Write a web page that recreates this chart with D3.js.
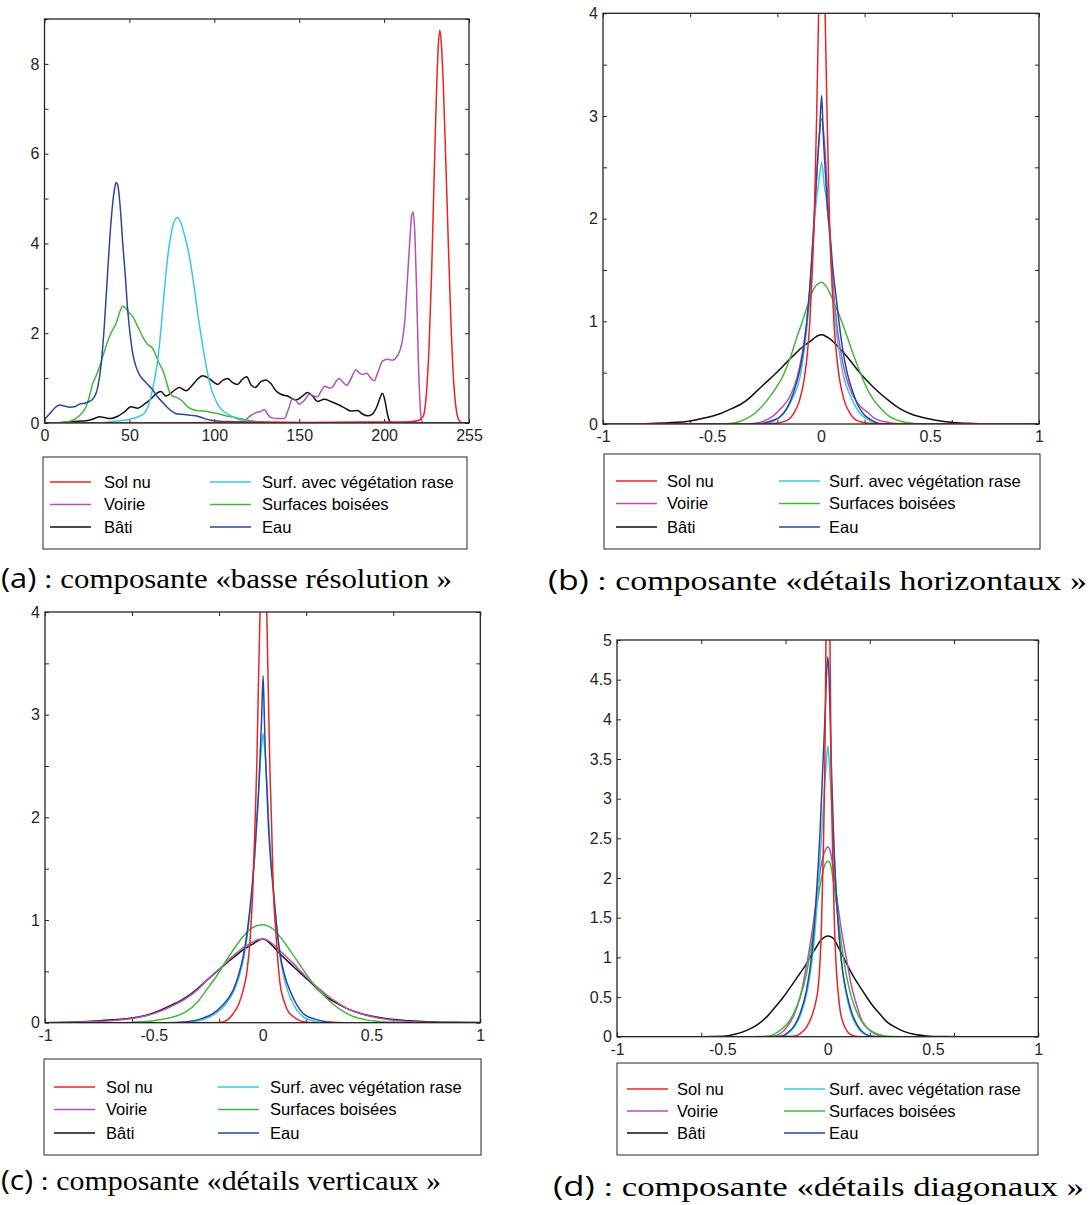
<!DOCTYPE html>
<html><head><meta charset="utf-8">
<script src="https://cdn.jsdelivr.net/npm/d3@7"></script>
<style>body{margin:0;background:#fff}svg{display:block}</style>
</head><body>
<svg id="c" width="1092" height="1205"></svg>
<script>
// ---------- series names / colours ----------
const seriesNames = ["Sol nu","Voirie","Bâti","Surf. avec végétation rase","Surfaces boisées","Eau"];
const seriesColors = ["#ee2222","#b451b4","#111111","#3ec6e0","#44b63e","#2b479b"];
const drawOrder = [2,1,4,3,5,0];

// ---------- tick labels ----------
const aXTickMarks = [0,51,102,153,204,255];
const aXLabelVals = [0,51,102,153,204,255];
const aXLabels = ["0","50","100","150","200","255"];
const aYTickMarks = [0,1,2,3,4,5,6,7,8,9];
const aYLabelVals = [0,2,4,6,8];
const wXTickMarks = [-1,-0.6,-0.2,0.2,0.6,1];
const wXLabelVals = [-1,-0.5,0,0.5,1];
const wXLabels = ["-1","-0.5","0","0.5","1"];
const bcYTickMarks = [0,0.5,1,1.5,2,2.5,3,3.5,4];
const bcYLabelVals = [0,1,2,3,4];
const dYTickMarks = [0,0.5,1,1.5,2,2.5,3,3.5,4,4.5,5];
const dYLabelVals = [0,0.5,1,1.5,2,2.5,3,3.5,4,4.5,5];

// ---------- (a) basse résolution ----------
const aSolNu = [[0,0],[60,0],[100,0.01],[130,0.02],[160,0.01],[190,0.02],[210,0.02],[220,0.03],[225,0.06],[227.5,0.15],[229.5,0.7],[231,1.7],[232.5,3.3],[234,5.4],[235.5,7.4],[236.7,8.5],[237.5,8.75],[238.3,8.5],[239.5,7.6],[241,5.9],[242.5,4.1],[244,2.4],[245.5,1.1],[247,0.4],[248.5,0.1],[250,0.02],[252,0],[255,0]];
const aVoirie = [[0,0],[100,0],[115,0.01],[120,0.05],[124,0.17],[127,0.23],[130,0.26],[132,0.3],[134,0.2],[136,0.12],[140,0.1],[144,0.1],[146.5,0.3],[149,0.55],[151,0.5],[153,0.42],[156,0.5],[159,0.64],[162,0.6],[164,0.58],[166,0.7],[168.5,0.82],[171,0.78],[173,0.8],[175,0.92],[177,0.99],[179,0.92],[181.5,0.84],[184,0.98],[187,1.18],[189,1.12],[191,1.08],[193.5,1.11],[196,1.0],[198,0.94],[200,1.1],[203,1.38],[206,1.42],[209,1.4],[212,1.5],[214.5,1.75],[216.5,2.3],[218,3.2],[219.5,4.1],[220.5,4.6],[221.5,4.7],[222.5,4.2],[223.5,3.0],[224.5,1.5],[225.5,0.5],[226.5,0.05],[228,0],[255,0]];
const aBati = [[0,0],[10,0.01],[20,0.04],[25,0.05],[30,0.1],[33,0.14],[36,0.12],[40,0.1],[44,0.15],[48,0.25],[52,0.36],[56,0.33],[60,0.42],[64,0.54],[67,0.65],[70,0.7],[73,0.6],[77,0.7],[81,0.79],[85,0.72],[89,0.85],[92,0.98],[95,1.05],[99,0.99],[102,0.9],[104,0.86],[107,0.95],[110,0.99],[113,0.9],[116,0.86],[119,0.98],[121.5,1.03],[124,0.85],[126.5,0.79],[130,0.92],[133,0.96],[136,0.88],[139,0.72],[142,0.64],[146,0.6],[151,0.51],[155,0.6],[158,0.68],[161,0.6],[164,0.48],[168,0.53],[172,0.48],[177,0.4],[181,0.32],[184,0.27],[188,0.28],[191,0.2],[194,0.16],[197,0.2],[199.5,0.35],[201.5,0.55],[203,0.66],[204.5,0.5],[206,0.2],[207.5,0.03],[209,0],[255,0]];
const aSurfVeg = [[0,0],[30,0],[40,0.03],[48,0.06],[53,0.1],[57,0.15],[60,0.22],[62,0.35],[64,0.6],[66,0.95],[68,1.4],[70,2.1],[72,2.95],[74,3.7],[76,4.2],[78,4.5],[80,4.58],[82,4.45],[84,4.2],[86,3.9],[88,3.5],[90,3.0],[92,2.45],[94,1.95],[96,1.5],[98,1.1],[100,0.78],[102,0.58],[104,0.42],[107,0.28],[111,0.18],[115,0.1],[120,0.05],[126,0.02],[135,0],[255,0]];
const aSurfBois = [[0,0],[8,0],[13,0.02],[18,0.08],[22,0.2],[25,0.36],[27,0.6],[29,0.88],[31,1.05],[33,1.25],[36,1.6],[39,1.92],[41,2.08],[43,2.22],[45,2.45],[47,2.6],[49,2.55],[51,2.45],[53,2.37],[56,2.15],[59,1.92],[62,1.75],[65,1.66],[67,1.5],[69,1.32],[71,1.18],[73,0.95],[75,0.7],[77,0.6],[80,0.56],[83,0.48],[86,0.36],[89,0.3],[93,0.27],[97,0.26],[101,0.23],[105,0.2],[110,0.15],[115,0.12],[120,0.08],[126,0.04],[132,0.01],[140,0],[255,0]];
const aEau = [[0,0.08],[3,0.2],[6,0.33],[9,0.4],[12,0.38],[15,0.35],[18,0.36],[21,0.42],[24,0.44],[27,0.48],[30,0.58],[32,0.8],[34,1.3],[36,2.2],[38,3.4],[40,4.5],[42,5.2],[43,5.36],[44,5.3],[45.5,4.8],[47,4.0],[48.5,3.3],[50,2.5],[51.5,1.95],[53,1.55],[55,1.25],[57,1.08],[59.5,0.96],[62,0.86],[65,0.74],[68,0.58],[71,0.46],[74,0.34],[77,0.25],[80,0.2],[84,0.19],[88,0.17],[92,0.15],[96,0.1],[100,0.06],[105,0.04],[115,0.03],[125,0.01],[140,0],[255,0]];

// ---------- (b) détails horizontaux ----------
const bSolNu = [[-1,0],[-0.35,0],[-0.22,0.005],[-0.16,0.03],[-0.126,0.1],[-0.1,0.22],[-0.076,0.45],[-0.062,0.7],[-0.051,1.0],[-0.041,1.45],[-0.031,2.0],[-0.021,2.9],[-0.01,4.1],[0.004,6.5],[0.018,4.1],[0.029,2.9],[0.039,2.0],[0.049,1.45],[0.059,1.0],[0.07,0.7],[0.084,0.45],[0.108,0.22],[0.134,0.1],[0.168,0.03],[0.23,0.005],[0.36,0],[1,0]];
const bVoirie = [[-1,0],[-0.4,0],[-0.31,0.005],[-0.26,0.03],[-0.219,0.08],[-0.18,0.16],[-0.142,0.27],[-0.11,0.45],[-0.085,0.7],[-0.065,1.0],[-0.048,1.4],[-0.033,1.9],[-0.02,2.4],[-0.008,2.8],[0.003,2.97],[0.014,2.8],[0.026,2.4],[0.039,1.9],[0.054,1.4],[0.071,1.0],[0.091,0.7],[0.116,0.45],[0.148,0.27],[0.186,0.16],[0.21,0.12],[0.25,0.05],[0.3,0.02],[0.36,0.003],[0.45,0],[1,0]];
const bBati = [[-1,0],[-0.85,0.002],[-0.78,0.005],[-0.7,0.012],[-0.6,0.03],[-0.53,0.06],[-0.463,0.1],[-0.41,0.15],[-0.37,0.19],[-0.33,0.25],[-0.295,0.32],[-0.26,0.39],[-0.219,0.47],[-0.185,0.54],[-0.158,0.6],[-0.12,0.68],[-0.096,0.73],[-0.06,0.79],[-0.035,0.83],[-0.015,0.86],[0.005,0.87],[0.025,0.85],[0.041,0.83],[0.08,0.75],[0.118,0.66],[0.155,0.56],[0.194,0.46],[0.23,0.38],[0.27,0.3],[0.31,0.23],[0.362,0.15],[0.41,0.1],[0.454,0.07],[0.52,0.04],[0.605,0.015],[0.7,0.006],[0.8,0.002],[1,0]];
const bSurfVeg = [[-1,0],[-0.35,0],[-0.248,0.005],[-0.2,0.05],[-0.172,0.1],[-0.13,0.25],[-0.096,0.46],[-0.078,0.7],[-0.064,0.95],[-0.048,1.35],[-0.034,1.86],[-0.02,2.2],[-0.011,2.34],[0.003,2.55],[0.014,2.34],[0.024,2.2],[0.038,1.86],[0.052,1.35],[0.068,0.95],[0.085,0.68],[0.104,0.46],[0.14,0.25],[0.18,0.1],[0.21,0.05],[0.26,0.005],[0.35,0],[1,0]];
const bSurfBois = [[-1,0],[-0.5,0],[-0.417,0.005],[-0.38,0.02],[-0.34,0.055],[-0.3,0.11],[-0.248,0.23],[-0.21,0.34],[-0.172,0.48],[-0.14,0.65],[-0.11,0.85],[-0.085,1.0],[-0.064,1.14],[-0.045,1.26],[-0.026,1.34],[-0.01,1.37],[0.005,1.38],[0.02,1.35],[0.04,1.28],[0.056,1.2],[0.078,1.09],[0.1,0.97],[0.125,0.82],[0.148,0.68],[0.18,0.5],[0.21,0.35],[0.24,0.24],[0.27,0.16],[0.31,0.08],[0.347,0.04],[0.39,0.015],[0.43,0.005],[0.5,0],[1,0]];
const bEau = [[-1,0],[-0.35,0],[-0.28,0.004],[-0.23,0.03],[-0.188,0.07],[-0.155,0.16],[-0.127,0.3],[-0.1,0.5],[-0.081,0.72],[-0.065,1.0],[-0.05,1.37],[-0.037,1.8],[-0.027,2.18],[-0.016,2.55],[-0.007,2.83],[0.003,3.2],[0.01,2.83],[0.02,2.45],[0.03,2.1],[0.041,1.86],[0.055,1.5],[0.071,1.21],[0.085,0.95],[0.1,0.72],[0.122,0.48],[0.148,0.3],[0.17,0.18],[0.194,0.1],[0.23,0.04],[0.27,0.005],[0.35,0],[1,0]];

// ---------- (c) détails verticaux ----------
const cSolNu = [[-1,0],[-0.3,0],[-0.196,0.002],[-0.16,0.03],[-0.135,0.09],[-0.11,0.18],[-0.089,0.32],[-0.072,0.5],[-0.058,0.8],[-0.046,1.25],[-0.035,1.94],[-0.027,2.5],[-0.02,3.24],[-0.012,4.0],[0.003,6.5],[0.019,4.0],[0.026,3.24],[0.033,2.5],[0.041,1.94],[0.049,1.3],[0.06,0.9],[0.07,0.6],[0.08,0.38],[0.1,0.2],[0.12,0.1],[0.14,0.06],[0.17,0.02],[0.217,0.002],[0.3,0],[1,0]];
const cVoirie = [[-1,0],[-0.9,0.003],[-0.8,0.01],[-0.7,0.02],[-0.6,0.04],[-0.53,0.07],[-0.472,0.11],[-0.41,0.17],[-0.35,0.24],[-0.3,0.32],[-0.258,0.41],[-0.21,0.5],[-0.166,0.59],[-0.125,0.67],[-0.09,0.73],[-0.05,0.78],[-0.02,0.81],[0.003,0.815],[0.025,0.8],[0.049,0.76],[0.09,0.68],[0.14,0.58],[0.18,0.49],[0.217,0.41],[0.255,0.34],[0.294,0.27],[0.34,0.2],[0.386,0.14],[0.447,0.09],[0.52,0.05],[0.6,0.025],[0.7,0.01],[0.8,0.004],[1,0]];
const cBati = [[-1,0],[-0.9,0.005],[-0.83,0.01],[-0.747,0.02],[-0.67,0.03],[-0.6,0.045],[-0.53,0.075],[-0.472,0.12],[-0.41,0.18],[-0.35,0.25],[-0.3,0.33],[-0.258,0.41],[-0.21,0.5],[-0.166,0.58],[-0.125,0.65],[-0.09,0.71],[-0.05,0.76],[-0.02,0.8],[0.003,0.815],[0.025,0.79],[0.049,0.74],[0.09,0.65],[0.14,0.55],[0.18,0.47],[0.217,0.4],[0.255,0.32],[0.294,0.25],[0.34,0.19],[0.386,0.14],[0.45,0.09],[0.524,0.055],[0.6,0.03],[0.677,0.018],[0.76,0.01],[0.85,0.005],[1,0.001]];
const cSurfVeg = [[-1,0],[-0.4,0],[-0.32,0.01],[-0.26,0.04],[-0.215,0.09],[-0.17,0.18],[-0.13,0.32],[-0.105,0.47],[-0.085,0.65],[-0.066,0.92],[-0.048,1.3],[-0.036,1.63],[-0.026,1.96],[-0.017,2.28],[-0.01,2.55],[-0.004,2.7],[0.002,2.82],[0.008,2.7],[0.014,2.55],[0.021,2.28],[0.028,1.96],[0.037,1.63],[0.05,1.3],[0.065,0.92],[0.08,0.64],[0.1,0.42],[0.124,0.26],[0.155,0.13],[0.186,0.06],[0.24,0.015],[0.3,0.002],[0.38,0],[1,0]];
const cSurfBois = [[-1,0],[-0.7,0],[-0.6,0.005],[-0.5,0.02],[-0.441,0.04],[-0.39,0.07],[-0.35,0.11],[-0.3,0.2],[-0.258,0.32],[-0.21,0.46],[-0.166,0.61],[-0.125,0.74],[-0.09,0.84],[-0.05,0.92],[-0.02,0.95],[0.003,0.955],[0.025,0.94],[0.049,0.91],[0.09,0.81],[0.14,0.66],[0.185,0.52],[0.232,0.38],[0.28,0.27],[0.324,0.18],[0.37,0.11],[0.416,0.06],[0.47,0.03],[0.524,0.015],[0.6,0.004],[0.7,0],[1,0]];
const cEau = [[-1,0],[-0.45,0],[-0.35,0.01],[-0.28,0.04],[-0.227,0.09],[-0.18,0.18],[-0.135,0.32],[-0.11,0.47],[-0.09,0.64],[-0.07,0.9],[-0.05,1.29],[-0.038,1.6],[-0.028,1.94],[-0.019,2.25],[-0.012,2.59],[-0.005,2.95],[0.002,3.38],[0.008,2.95],[0.013,2.59],[0.02,2.25],[0.026,1.94],[0.036,1.6],[0.049,1.29],[0.064,0.95],[0.08,0.67],[0.1,0.47],[0.124,0.32],[0.155,0.18],[0.186,0.09],[0.24,0.035],[0.294,0.01],[0.38,0],[1,0]];

// ---------- (d) détails diagonaux ----------
const dSolNu = [[-1,0],[-0.25,0],[-0.163,0.005],[-0.13,0.04],[-0.1,0.12],[-0.075,0.26],[-0.058,0.42],[-0.045,0.62],[-0.036,0.95],[-0.029,1.43],[-0.021,2.3],[-0.013,3.53],[-0.008,5.0],[0.0015,8.0],[0.011,5.0],[0.016,3.53],[0.024,2.3],[0.032,1.43],[0.04,0.9],[0.05,0.55],[0.06,0.32],[0.074,0.17],[0.095,0.06],[0.12,0.015],[0.14,0.003],[0.2,0],[1,0]];
const dVoirie = [[-1,0],[-0.35,0],[-0.257,0.005],[-0.22,0.05],[-0.194,0.12],[-0.16,0.27],[-0.131,0.5],[-0.1,0.9],[-0.068,1.43],[-0.045,1.9],[-0.029,2.19],[-0.014,2.33],[0.001,2.39],[0.011,2.35],[0.025,2.15],[0.043,1.77],[0.065,1.35],[0.09,0.97],[0.115,0.62],[0.14,0.38],[0.16,0.22],[0.185,0.12],[0.215,0.05],[0.25,0.01],[0.3,0],[1,0]];
const dBati = [[-1,0],[-0.6,0],[-0.494,0.005],[-0.44,0.03],[-0.384,0.08],[-0.335,0.15],[-0.289,0.25],[-0.25,0.37],[-0.21,0.5],[-0.17,0.65],[-0.131,0.8],[-0.105,0.9],[-0.084,1.0],[-0.06,1.1],[-0.037,1.2],[-0.018,1.25],[0.001,1.27],[0.015,1.26],[0.027,1.24],[0.05,1.13],[0.07,1.03],[0.09,0.92],[0.12,0.77],[0.153,0.63],[0.185,0.5],[0.217,0.38],[0.25,0.28],[0.28,0.19],[0.32,0.12],[0.359,0.07],[0.41,0.03],[0.47,0.01],[0.55,0.002],[0.65,0],[1,0]];
const dSurfVeg = [[-1,0],[-0.3,0],[-0.22,0.005],[-0.185,0.05],[-0.158,0.12],[-0.125,0.3],[-0.095,0.6],[-0.07,1.05],[-0.048,1.75],[-0.031,2.45],[-0.018,3.0],[-0.008,3.4],[0.001,3.67],[0.009,3.4],[0.017,3.0],[0.028,2.45],[0.045,1.6],[0.065,0.95],[0.085,0.58],[0.11,0.3],[0.135,0.15],[0.165,0.05],[0.2,0.01],[0.25,0],[1,0]];
const dSurfBois = [[-1,0],[-0.4,0],[-0.289,0.005],[-0.255,0.03],[-0.226,0.08],[-0.19,0.17],[-0.16,0.3],[-0.13,0.5],[-0.1,0.8],[-0.075,1.2],[-0.052,1.64],[-0.035,1.92],[-0.021,2.1],[-0.009,2.19],[0.001,2.21],[0.011,2.19],[0.025,2.0],[0.043,1.64],[0.065,1.18],[0.09,0.76],[0.115,0.48],[0.14,0.3],[0.17,0.16],[0.203,0.08],[0.24,0.03],[0.28,0.005],[0.35,0],[1,0]];
const dEau = [[-1,0],[-0.3,0],[-0.226,0.005],[-0.19,0.05],[-0.163,0.12],[-0.13,0.3],[-0.1,0.59],[-0.075,1.05],[-0.052,1.85],[-0.035,2.65],[-0.021,3.53],[-0.01,4.2],[-0.005,4.58],[0.001,4.79],[0.007,4.5],[0.013,3.9],[0.019,3.3],[0.03,2.4],[0.05,1.43],[0.07,0.85],[0.09,0.55],[0.115,0.3],[0.14,0.15],[0.17,0.05],[0.2,0.01],[0.25,0],[1,0]];

// ---------- captions ----------
const captionTags = ["(a)","(b)","(c)","(d)"];
const captionTexts = [" : composante «basse résolution »"," : composante «détails horizontaux »"," : composante «détails verticaux »"," : composante «détails diagonaux »"];

// ---------- layout ----------
const panels = [
  {series:[aSolNu,aVoirie,aBati,aSurfVeg,aSurfBois,aEau], xDomain:[0,255], yDomain:[0,9],
   box:{l:44.5,r:469,t:19,b:423}, xMarks:aXTickMarks, xLabelVals:aXLabelVals, xLabels:aXLabels,
   yMarks:aYTickMarks, yLabelVals:aYLabelVals, yFmt:d3.format("d"),
   legend:{x:43,y:457,w:424,h:92,l1:7,l2:167,t1:61,t2:219,rows:[25,47.5,70]},
   cap:{x:1,y:588,w:451}},
  {series:[bSolNu,bVoirie,bBati,bSurfVeg,bSurfBois,bEau], xDomain:[-1,1], yDomain:[0,4],
   box:{l:603,r:1039,t:13.3,b:424}, xMarks:wXTickMarks, xLabelVals:wXLabelVals, xLabels:wXLabels,
   yMarks:bcYTickMarks, yLabelVals:bcYLabelVals, yFmt:d3.format("d"),
   legend:{x:604,y:454,w:436,h:95,l1:12,l2:175,t1:63,t2:225,rows:[27,49.5,73]},
   cap:{x:548,y:590,w:539}},
  {series:[cSolNu,cVoirie,cBati,cSurfVeg,cSurfBois,cEau], xDomain:[-1,1], yDomain:[0,4],
   box:{l:45,r:480.3,t:612,b:1022.7}, xMarks:wXTickMarks, xLabelVals:wXLabelVals, xLabels:wXLabels,
   yMarks:bcYTickMarks, yLabelVals:bcYLabelVals, yFmt:d3.format("d"),
   legend:{x:44,y:1059,w:437,h:96,l1:10,l2:174,t1:62,t2:226,rows:[28,50.5,74]},
   cap:{x:1,y:1190,w:440}},
  {series:[dSolNu,dVoirie,dBati,dSurfVeg,dSurfBois,dEau], xDomain:[-1,1], yDomain:[0,5],
   box:{l:617,r:1038.3,t:640,b:1036.7}, xMarks:wXTickMarks, xLabelVals:wXLabelVals, xLabels:wXLabels,
   yMarks:dYTickMarks, yLabelVals:dYLabelVals, yFmt:d => d3.format("")(d),
   legend:{x:617,y:1063,w:421,h:92,l1:10,l2:167,t1:60,t2:212,rows:[26,48,70]},
   cap:{x:553,y:1196,w:531}}
];

const svg = d3.select("#c");
const axisColor = "#262626";
const tickFont = "'Liberation Sans', Arial, sans-serif";

panels.forEach((p, pi) => {
  const g = svg.append("g");
  const x = d3.scaleLinear().domain(p.xDomain).range([p.box.l, p.box.r]);
  const y = d3.scaleLinear().domain(p.yDomain).range([p.box.b, p.box.t]);
  const clipId = "clip" + pi;
  svg.append("clipPath").attr("id", clipId).append("rect")
    .attr("x", p.box.l).attr("y", p.box.t).attr("width", p.box.r - p.box.l).attr("height", p.box.b - p.box.t);

  const styleAxis = s => {
    s.select(".domain").remove();
    s.selectAll(".tick line").attr("stroke", axisColor).attr("stroke-width", 1);
    s.selectAll(".tick text").attr("fill", axisColor).attr("font-family", tickFont).attr("font-size", 16);
  };
  // inward tick marks on all four sides
  g.append("g").attr("transform", `translate(0,${p.box.b})`)
    .call(d3.axisBottom(x).tickValues(p.xMarks).tickSizeInner(-4).tickSizeOuter(0).tickFormat("")).call(styleAxis);
  g.append("g").attr("transform", `translate(0,${p.box.t})`)
    .call(d3.axisTop(x).tickValues(p.xMarks).tickSizeInner(-4).tickSizeOuter(0).tickFormat("")).call(styleAxis);
  g.append("g").attr("transform", `translate(${p.box.l},0)`)
    .call(d3.axisLeft(y).tickValues(p.yMarks).tickSizeInner(-4).tickSizeOuter(0).tickFormat("")).call(styleAxis);
  g.append("g").attr("transform", `translate(${p.box.r},0)`)
    .call(d3.axisRight(y).tickValues(p.yMarks).tickSizeInner(-4).tickSizeOuter(0).tickFormat("")).call(styleAxis);
  // labels
  g.append("g").attr("transform", `translate(0,${p.box.b})`)
    .call(d3.axisBottom(x).tickValues(p.xLabelVals).tickSize(0).tickPadding(7).tickFormat((d, i) => p.xLabels[i]))
    .call(styleAxis).call(s => s.selectAll(".tick line").remove());
  g.append("g").attr("transform", `translate(${p.box.l},0)`)
    .call(d3.axisLeft(y).tickValues(p.yLabelVals).tickSize(0).tickPadding(5).tickFormat(p.yFmt))
    .call(styleAxis).call(s => s.selectAll(".tick line").remove());

  // curves
  const line = d3.line().x(d => x(d[0])).y(d => y(d[1])).curve(d3.curveMonotoneX);
  const cg = g.append("g").attr("clip-path", `url(#${clipId})`);
  drawOrder.forEach(si => {
    cg.append("path").datum(p.series[si]).attr("d", line)
      .attr("fill", "none").attr("stroke", seriesColors[si]).attr("stroke-width", 1.5)
      .attr("stroke-linejoin", "round");
  });

  // frame
  g.append("rect").attr("x", p.box.l).attr("y", p.box.t)
    .attr("width", p.box.r - p.box.l).attr("height", p.box.b - p.box.t)
    .attr("fill", "none").attr("stroke", axisColor).attr("stroke-width", 1.3);

  // legend
  const L = p.legend;
  const lg = svg.append("g").attr("transform", `translate(${L.x},${L.y})`);
  lg.append("rect").attr("width", L.w).attr("height", L.h).attr("fill", "#fff")
    .attr("stroke", axisColor).attr("stroke-width", 1);
  seriesNames.forEach((name, i) => {
    const col = i < 3 ? 0 : 1, row = i % 3;
    const lx = col === 0 ? L.l1 : L.l2, tx = col === 0 ? L.t1 : L.t2;
    const ry = L.rows[row];
    lg.append("line").attr("x1", lx).attr("x2", lx + 41).attr("y1", ry).attr("y2", ry)
      .attr("stroke", seriesColors[i]).attr("stroke-width", 1.5);
    lg.append("text").attr("x", tx).attr("y", ry).attr("dy", "0.36em")
      .attr("font-family", tickFont).attr("font-size", 16.5).attr("fill", "#000").text(name);
  });

  // caption: sans tag + serif text, stretched to the reference width
  const cap = svg.append("text").attr("x", p.cap.x).attr("y", p.cap.y).attr("font-size", 27).attr("fill", "#000")
    .attr("textLength", p.cap.w).attr("lengthAdjust", "spacingAndGlyphs");
  cap.append("tspan").attr("font-family", "'Open Sans', 'DejaVu Sans', sans-serif").text(captionTags[pi]);
  cap.append("tspan").attr("font-family", "'Liberation Serif', 'Times New Roman', serif").text(captionTexts[pi]);
});
</script>
</body></html>
